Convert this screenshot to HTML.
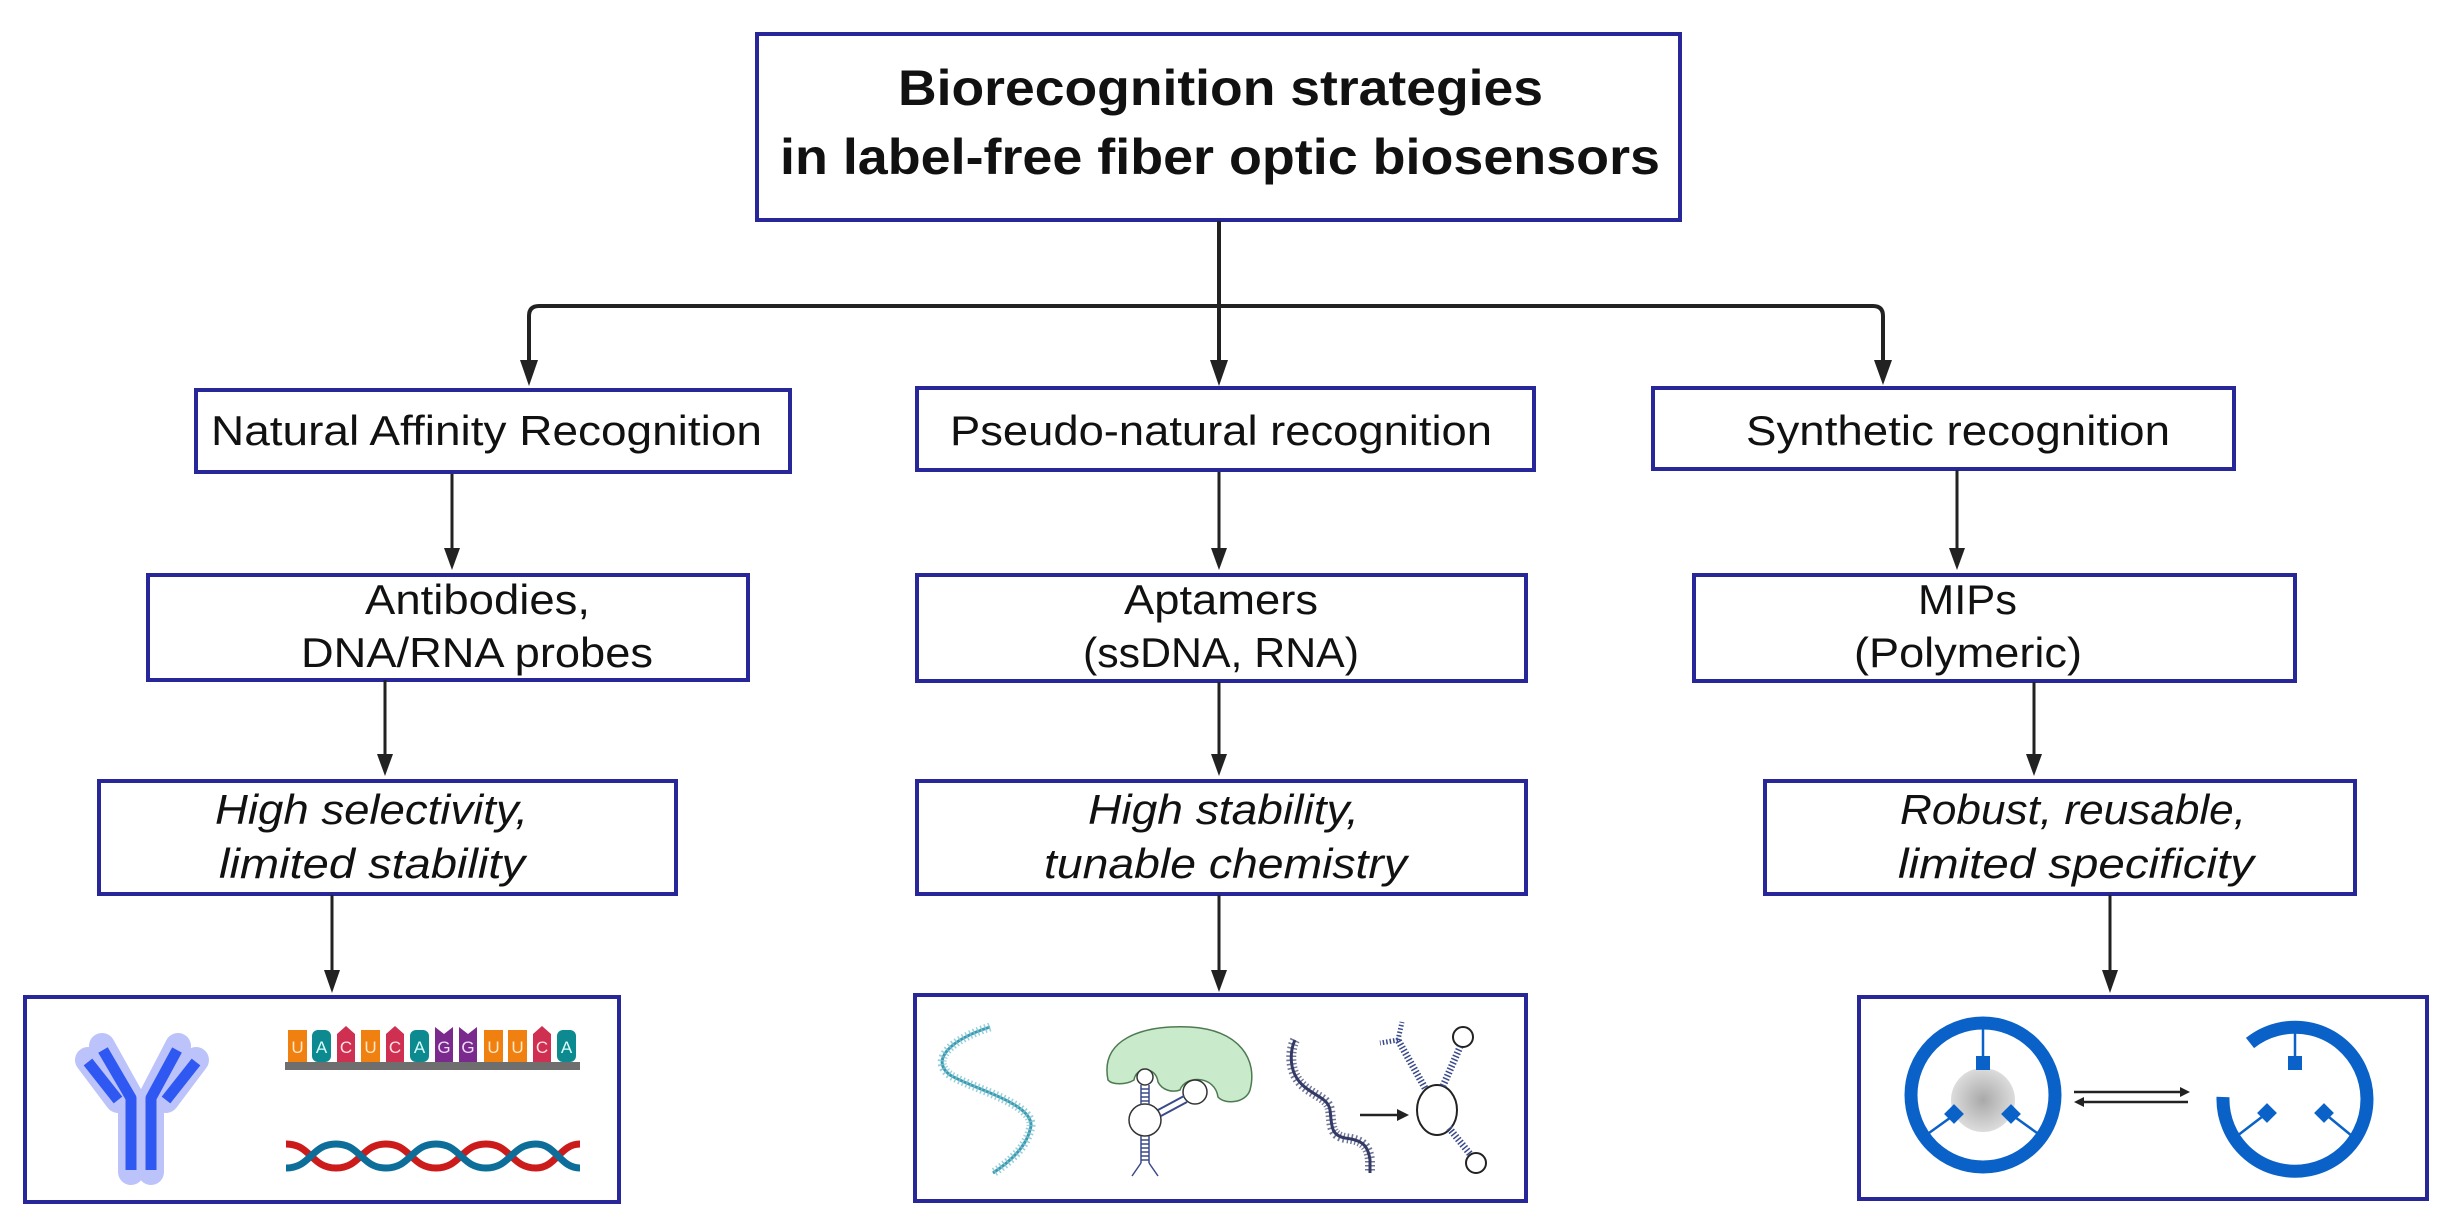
<!DOCTYPE html>
<html><head><meta charset="utf-8"><style>
html,body{margin:0;padding:0;background:#fff;}
svg{display:block;}
text{font-family:"Liberation Sans",sans-serif;fill:#111;}
</style></head><body>
<svg width="2452" height="1229" viewBox="0 0 2452 1229" xmlns="http://www.w3.org/2000/svg">
<defs>
<radialGradient id="gs" cx="0.5" cy="0.5" r="0.5"><stop offset="0" stop-color="#a9a9a9"/><stop offset="1" stop-color="#dcdcdc"/></radialGradient>
</defs>
<g fill="none" stroke="#28279a" stroke-width="4">
<rect x="757" y="34" width="923" height="186"/>
<rect x="196" y="390" width="594" height="82"/>
<rect x="917" y="388" width="617" height="82"/>
<rect x="1653" y="388" width="581" height="81"/>
<rect x="148" y="575" width="600" height="105"/>
<rect x="917" y="575" width="609" height="106"/>
<rect x="1694" y="575" width="601" height="106"/>
<rect x="99" y="781" width="577" height="113"/>
<rect x="917" y="781" width="609" height="113"/>
<rect x="1765" y="781" width="590" height="113"/>
<rect x="25" y="997" width="594" height="205"/>
<rect x="915" y="995" width="611" height="206"/>
<rect x="1859" y="997" width="568" height="202"/>
</g>
<g stroke="#222" stroke-width="4" fill="none">
<path d="M1219 221 V360"/>
<path d="M529 368 V316 Q529 306 539 306 H1873 Q1883 306 1883 316 V368"/>
<path d="M1219 306 V368"/>
<g stroke-width="3">
<path d="M452 474 V552"/><path d="M1219 472 V552"/><path d="M1957 470 V552"/>
<path d="M385 680 V758"/><path d="M1219 682 V758"/><path d="M2034 682 V758"/>
<path d="M332 895 V974"/><path d="M1219 895 V974"/><path d="M2110 895 V974"/>
</g>
</g>
<g fill="#222">
<path d="M520 360 L538 360 L529 386Z"/><path d="M1210 360 L1228 360 L1219 386Z"/><path d="M1874 360 L1892 360 L1883 385Z"/>
<path d="M444 548 L460 548 L452 570Z"/><path d="M1211 548 L1227 548 L1219 570Z"/><path d="M1949 548 L1965 548 L1957 570Z"/>
<path d="M377 754 L393 754 L385 776Z"/><path d="M1211 754 L1227 754 L1219 776Z"/><path d="M2026 754 L2042 754 L2034 776Z"/>
<path d="M324 970 L340 970 L332 993Z"/><path d="M1211 970 L1227 970 L1219 992Z"/><path d="M2102 970 L2118 970 L2110 993Z"/>
</g>
<g font-weight="bold" font-size="50">
<text x="898" y="105" textLength="645" lengthAdjust="spacingAndGlyphs">Biorecognition strategies</text>
<text x="780" y="174" textLength="880" lengthAdjust="spacingAndGlyphs">in label-free fiber optic biosensors</text>
</g>
<g font-size="42">
<text x="211" y="445" textLength="551" lengthAdjust="spacingAndGlyphs">Natural Affinity Recognition</text>
<text x="950" y="445" textLength="542" lengthAdjust="spacingAndGlyphs">Pseudo-natural recognition</text>
<text x="1746" y="445" textLength="424" lengthAdjust="spacingAndGlyphs">Synthetic recognition</text>
<text x="365" y="614" textLength="225" lengthAdjust="spacingAndGlyphs">Antibodies,</text>
<text x="301" y="667" textLength="352" lengthAdjust="spacingAndGlyphs">DNA/RNA probes</text>
<text x="1124" y="614" textLength="194" lengthAdjust="spacingAndGlyphs">Aptamers</text>
<text x="1083" y="667" textLength="276" lengthAdjust="spacingAndGlyphs">(ssDNA, RNA)</text>
<text x="1918" y="614" textLength="99" lengthAdjust="spacingAndGlyphs">MIPs</text>
<text x="1854" y="667" textLength="228" lengthAdjust="spacingAndGlyphs">(Polymeric)</text>
</g>
<g font-size="42" font-style="italic">
<text x="215" y="824" textLength="313" lengthAdjust="spacingAndGlyphs">High selectivity,</text>
<text x="219" y="878" textLength="306" lengthAdjust="spacingAndGlyphs">limited stability</text>
<text x="1088" y="824" textLength="271" lengthAdjust="spacingAndGlyphs">High stability,</text>
<text x="1044" y="878" textLength="363" lengthAdjust="spacingAndGlyphs">tunable chemistry</text>
<text x="1900" y="824" textLength="346" lengthAdjust="spacingAndGlyphs">Robust, reusable,</text>
<text x="1898" y="878" textLength="356" lengthAdjust="spacingAndGlyphs">limited specificity</text>
</g>
<g stroke-linecap="round" stroke-linejoin="round" fill="none">
<g stroke="#bcc3fa" stroke-width="26">
<path d="M131 1172 V1098 L102 1046"/><path d="M151 1172 V1098 L178 1046"/>
<path d="M88 1060 L118 1100"/><path d="M196 1060 L166 1100"/>
</g>
<g stroke="#2f58f2" stroke-width="11" stroke-linecap="butt">
<path d="M131 1170 V1098 L103 1050"/><path d="M151 1170 V1098 L177 1050"/>
<path d="M88 1062 L118 1100"/><path d="M196 1062 L166 1100"/>
</g>
</g>
<rect x="285" y="1062" width="295" height="8" fill="#6e6e6e"/>
<g>
<rect x="288" y="1030" width="19" height="32" fill="#f0800f"/><text x="297.5" y="1053" font-size="17" text-anchor="middle" style="fill:#ffe7c8">U</text>
<rect x="312" y="1030" width="19" height="32" rx="6" fill="#0d8a8f"/><text x="321.5" y="1053" font-size="17" text-anchor="middle" style="fill:#d9ffff">A</text>
<path d="M337 1062 V1034 L346 1026 L355 1034 V1062Z" fill="#cf2f50"/><text x="346" y="1053" font-size="17" text-anchor="middle" style="fill:#ffe0e6">C</text>
<rect x="361" y="1030" width="19" height="32" fill="#f0800f"/><text x="370.5" y="1053" font-size="17" text-anchor="middle" style="fill:#ffe7c8">U</text>
<path d="M386 1062 V1034 L395 1026 L404 1034 V1062Z" fill="#cf2f50"/><text x="395" y="1053" font-size="17" text-anchor="middle" style="fill:#ffe0e6">C</text>
<rect x="410" y="1030" width="19" height="32" rx="6" fill="#0d8a8f"/><text x="419.5" y="1053" font-size="17" text-anchor="middle" style="fill:#d9ffff">A</text>
<path d="M435 1062 V1027 L444 1034 L453 1027 V1062Z" fill="#7a2a8c"/><text x="444" y="1053" font-size="17" text-anchor="middle" style="fill:#f0dcff">G</text>
<path d="M459 1062 V1027 L468 1034 L477 1027 V1062Z" fill="#7a2a8c"/><text x="468" y="1053" font-size="17" text-anchor="middle" style="fill:#f0dcff">G</text>
<rect x="484" y="1030" width="19" height="32" fill="#f0800f"/><text x="493.5" y="1053" font-size="17" text-anchor="middle" style="fill:#ffe7c8">U</text>
<rect x="508" y="1030" width="19" height="32" fill="#f0800f"/><text x="517.5" y="1053" font-size="17" text-anchor="middle" style="fill:#ffe7c8">U</text>
<path d="M533 1062 V1034 L542 1026 L551 1034 V1062Z" fill="#cf2f50"/><text x="542" y="1053" font-size="17" text-anchor="middle" style="fill:#ffe0e6">C</text>
<rect x="557" y="1030" width="19" height="32" rx="6" fill="#0d8a8f"/><text x="566.5" y="1053" font-size="17" text-anchor="middle" style="fill:#d9ffff">A</text>
</g>
<g fill="none" stroke-width="7">
<path d="M286 1144 C311 1144 311 1168 336 1168 C361 1168 361 1144 386 1144 C411 1144 411 1168 436 1168 C461 1168 461 1144 486 1144 C511 1144 511 1168 536 1168 C556 1168 560 1144 580 1144" stroke="#cc1b1b"/>
<path d="M286 1168 C311 1168 311 1144 336 1144 C361 1144 361 1168 386 1168 C411 1168 411 1144 436 1144 C461 1144 461 1168 486 1168 C511 1168 511 1144 536 1144 C556 1144 560 1168 580 1168" stroke="#0d6e99"/>
</g>
<path d="M990 1027 C950 1040 930 1060 950 1075 C975 1090 1040 1105 1030 1130 C1025 1150 1005 1165 993 1173" fill="none" stroke="#3a9ab0" stroke-width="3"/>
<path d="M990 1027 C950 1040 930 1060 950 1075 C975 1090 1040 1105 1030 1130 C1025 1150 1005 1165 993 1173" fill="none" stroke="#7fc3d3" stroke-width="9" stroke-dasharray="1.5 2.5" opacity="0.8"/>
<path d="M1108 1080 C1100 1040 1140 1025 1190 1027 C1240 1030 1258 1060 1250 1090 C1246 1103 1225 1105 1218 1097 C1215 1075 1185 1075 1180 1090 C1172 1093 1162 1090 1158 1082 C1156 1066 1136 1066 1134 1080 C1126 1085 1112 1085 1108 1080 Z" fill="#c9ebcb" stroke="#4e7a52" stroke-width="1.5"/>
<g fill="#fff" stroke="#333" stroke-width="1.5">
<circle cx="1145" cy="1077" r="8"/><circle cx="1195" cy="1092" r="12"/><circle cx="1145" cy="1120" r="16"/>
</g>
<g stroke="#3a4a8a" stroke-width="1.5" fill="none">
<path d="M1141 1085 V1105 M1149 1085 V1105 M1141 1136 V1163 M1149 1136 V1163"/>
<path d="M1141 1163 L1132 1176 M1149 1163 L1158 1176"/>
<path d="M1141 1089 H1149 M1141 1093 H1149 M1141 1097 H1149 M1141 1101 H1149 M1141 1140 H1149 M1141 1144 H1149 M1141 1148 H1149 M1141 1152 H1149 M1141 1156 H1149 M1141 1160 H1149"/>
<path d="M1158 1110 L1184 1096 M1161 1116 L1187 1102" stroke-width="2"/>
</g>
<path d="M1295 1040 C1290 1050 1290 1065 1295 1075 C1305 1095 1328 1095 1330 1110 C1332 1125 1330 1135 1345 1138 C1362 1140 1368 1145 1370 1160 V1173" fill="none" stroke="#333a66" stroke-width="3"/>
<path d="M1295 1040 C1290 1050 1290 1065 1295 1075 C1305 1095 1328 1095 1330 1110 C1332 1125 1330 1135 1345 1138 C1362 1140 1368 1145 1370 1160 V1173" fill="none" stroke="#333a66" stroke-width="10" stroke-dasharray="1.5 2.5" opacity="0.7"/>
<path d="M1360 1115 H1400" stroke="#222" stroke-width="2.5"/><path d="M1397 1109 L1409 1115 L1397 1121Z" fill="#222"/>
<g fill="none" stroke="#222" stroke-width="2">
<ellipse cx="1437" cy="1110" rx="20" ry="25"/>
<circle cx="1463" cy="1037" r="10"/><circle cx="1476" cy="1163" r="10"/>
</g>
<g stroke="#3a4a8a" stroke-width="7" stroke-dasharray="1.5 2" fill="none">
<path d="M1425 1088 L1398 1040"/><path d="M1443 1086 L1460 1047"/><path d="M1449 1128 L1470 1154"/>
<path d="M1398 1040 L1380 1043" stroke-width="5"/><path d="M1398 1040 L1402 1022" stroke-width="5"/>
</g>
<g fill="none" stroke="#0a62c8">
<circle cx="1983" cy="1095" r="72" stroke-width="13"/>
<path d="M2223 1097 A72 72 0 1 0 2250 1043" stroke-width="13"/>
</g>
<circle cx="1983" cy="1100" r="32" fill="url(#gs)"/>
<g stroke="#0a62c8" stroke-width="2.5">
<path d="M1983 1028 V1060 M1954 1115 L1922 1138 M2012 1115 L2044 1138"/>
<path d="M2295 1028 V1060 M2267 1113 L2237 1136 M2324 1113 L2352 1136"/>
</g>
<g fill="#0a62c8">
<rect x="1976" y="1056" width="14" height="14"/>
<rect x="1947" y="1107" width="14" height="14" transform="rotate(45 1954 1114)"/>
<rect x="2004" y="1107" width="14" height="14" transform="rotate(45 2011 1114)"/>
<rect x="2288" y="1056" width="14" height="14"/>
<rect x="2260" y="1106" width="14" height="14" transform="rotate(45 2267 1113)"/>
<rect x="2317" y="1106" width="14" height="14" transform="rotate(45 2324 1113)"/>
</g>
<g stroke="#222" stroke-width="2.5"><path d="M2074 1092 H2182 M2082 1102 H2188"/></g>
<path d="M2180 1087 L2190 1092 L2180 1097Z M2084 1097 L2074 1102 L2084 1107Z" fill="#222"/>
</svg>
</body></html>
